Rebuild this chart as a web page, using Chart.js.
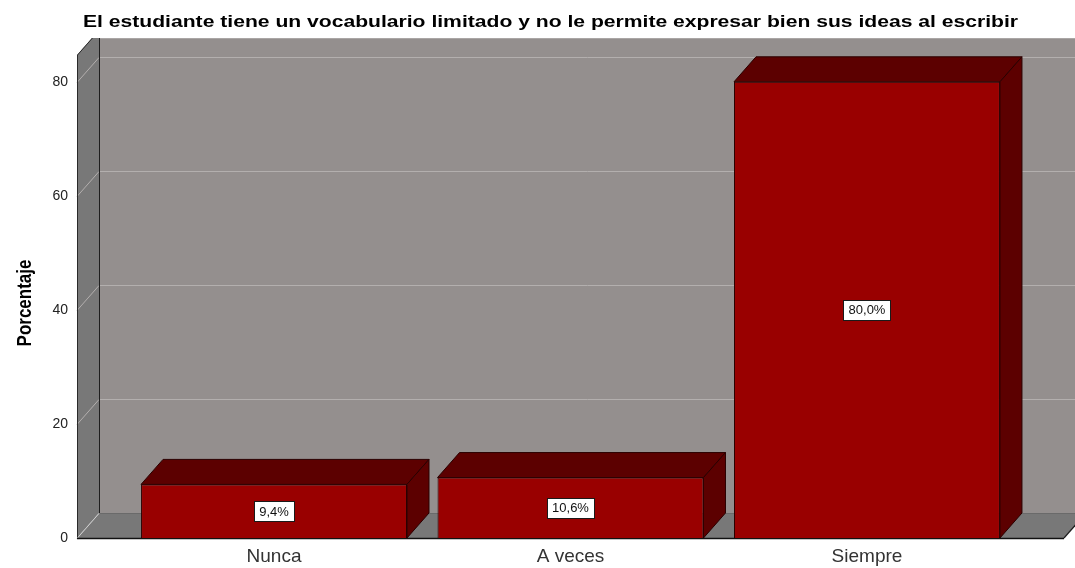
<!DOCTYPE html>
<html><head><meta charset="utf-8">
<script src="https://cdn.jsdelivr.net/npm/chart.js@4/dist/chart.umd.min.js"></script>
<style>html,body{margin:0;padding:0;background:#fff}#wrap{width:1075px;height:568px}</style>
</head><body><div id="wrap"><canvas id="c" width="1075" height="568"></canvas></div>
<script>
const chartTitle = 'El estudiante tiene un vocabulario limitado y no le permite expresar bien sus ideas al escribir';
const yAxisTitle = 'Porcentaje';
const categories = ['Nunca', 'A veces', 'Siempre'];
const percentages = [9.4, 10.6, 80.0];
const yTickValues = [0, 20, 40, 60, 80];

const DX = 22, DY = 25;        // 3D depth offset (style)
const CLIP_TOP = 38;           // top of the plot frame
const FONT = "'Liberation Sans', Arial, sans-serif";

function poly(ctx, pts, fill, stroke) {
  ctx.beginPath();
  ctx.moveTo(pts[0][0], pts[0][1]);
  for (let i = 1; i < pts.length; i++) ctx.lineTo(pts[i][0], pts[i][1]);
  ctx.closePath();
  if (fill) { ctx.fillStyle = fill; ctx.fill(); }
  if (stroke) { ctx.strokeStyle = stroke; ctx.lineWidth = 1; ctx.stroke(); }
}
function line(ctx, pts, color, w) {
  ctx.beginPath();
  ctx.moveTo(pts[0][0], pts[0][1]);
  for (let i = 1; i < pts.length; i++) ctx.lineTo(pts[i][0], pts[i][1]);
  ctx.strokeStyle = color; ctx.lineWidth = w || 1; ctx.stroke();
}

const spss3d = {
  id: 'spss3d',
  beforeDatasetsDraw(chart) {
    const { ctx, chartArea: a, scales: { y } } = chart;
    const L = a.left, R = a.right, T = a.top, B = a.bottom;
    ctx.save();
    ctx.beginPath(); ctx.rect(0, CLIP_TOP, chart.width, chart.height - CLIP_TOP); ctx.clip();
    // back wall
    poly(ctx, [[L + DX, T - DY], [R + DX, T - DY], [R + DX, B - DY], [L + DX, B - DY]], '#948f8e');
    // left wall
    poly(ctx, [[L, B], [L, T], [L + DX, T - DY], [L + DX, B - DY]], '#787878');
    // floor
    poly(ctx, [[L, B], [L + DX, B - DY], [R + DX, B - DY], [R, B]], '#787878');
    // gridlines
    yTickValues.forEach(v => {
      if (v === 0) return;
      const py = Math.round(y.getPixelForValue(v)) + 0.5;
      line(ctx, [[L, py], [L + DX, py - DY], [R + DX, py - DY]], '#b3afae', 1);
    });
    // floor back edge
    line(ctx, [[L + DX, B - DY + 0.5], [R + DX, B - DY + 0.5]], '#6a6a6a', 1);
    // top frame edge
    line(ctx, [[L + DX, CLIP_TOP + 0.5], [chart.width, CLIP_TOP + 0.5]], '#aaa6a5', 1);
    // edges
    line(ctx, [[L + DX + 0.5, T - DY], [L + DX + 0.5, B - DY]], '#1e1e1e', 1);
    line(ctx, [[L + 0.5, B], [L + 0.5, T], [L + DX + 0.5, T - DY]], '#2a2a2a', 1);
    line(ctx, [[L, B + 0.5], [L + DX, B - DY + 0.5]], '#cfcfcf', 1);
    line(ctx, [[R, B], [R + DX, B - DY]], '#1e1e1e', 1.2);
    line(ctx, [[L, B + 0.5], [R, B + 0.5]], '#111', 1.5);
    ctx.restore();
  },
  afterDatasetsDraw(chart) {
    const { ctx } = chart;
    const meta = chart.getDatasetMeta(0);
    ctx.save();
    meta.data.forEach((bar, i) => {
      const { x, y, base, width } = bar.getProps(['x', 'y', 'base', 'width'], true);
      const l = x - width / 2, r = x + width / 2;
      // top face
      poly(ctx, [[l, y], [l + DX, y - DY], [r + DX, y - DY], [r, y]], '#5c0000', '#2a0000');
      // side face
      poly(ctx, [[r, y], [r + DX, y - DY], [r + DX, base - DY], [r, base]], '#5c0000', '#2a0000');
      // value label
      const txt = percentages[i].toFixed(1).replace('.', ',') + '%';
      ctx.font = '13px ' + FONT;
      const tw = ctx.measureText(txt).width;
      const cy = (y + base) / 2;
      const bw = Math.round(tw + 10), bh = 20;
      const bx = Math.round(x - bw / 2) + 0.5, byy = Math.round(cy - bh / 2) + 0.5;
      ctx.fillStyle = '#ffffff';
      ctx.fillRect(bx, byy, bw, bh);
      ctx.strokeStyle = '#1a1a1a'; ctx.lineWidth = 1;
      ctx.strokeRect(bx, byy, bw, bh);
      ctx.fillStyle = '#111';
      ctx.textAlign = 'center'; ctx.textBaseline = 'middle';
      ctx.fillText(txt, x, cy + 1);
    });
    ctx.restore();
  },
  afterDraw(chart) {
    const { ctx } = chart;
    ctx.save();
    // title
    ctx.font = 'bold 16px ' + FONT;
    const w = ctx.measureText(chartTitle).width;
    const sx = 935 / w;
    ctx.translate(550.5, 27);
    ctx.scale(sx, 1);
    ctx.fillStyle = '#000';
    ctx.textAlign = 'center'; ctx.textBaseline = 'alphabetic';
    ctx.fillText(chartTitle, 0, 0);
    ctx.restore();
    // y-axis title
    ctx.save();
    ctx.font = 'bold 17px ' + FONT;
    ctx.translate(31, 303);
    ctx.scale(1.15, 1);
    ctx.rotate(-Math.PI / 2);
    ctx.fillStyle = '#000';
    ctx.textAlign = 'center'; ctx.textBaseline = 'alphabetic';
    ctx.fillText(yAxisTitle, 0, 0);
    ctx.restore();
  }
};

new Chart(document.getElementById('c'), {
  type: 'bar',
  data: {
    datasets: [{
      data: percentages.map((v, i) => ({ x: i, y: v })),
      backgroundColor: '#990000',
      borderColor: '#2a0000',
      borderWidth: 1,
      barPercentage: 0.897,
      categoryPercentage: 1
    }]
  },
  options: {
    responsive: false,
    animation: false,
    devicePixelRatio: 1,
    layout: { padding: { top: 55, right: 11, left: 0, bottom: 0 } },
    plugins: { legend: { display: false }, tooltip: { enabled: false }, title: { display: false } },
    scales: {
      x: {
        type: 'linear',
        offset: false,
        min: -0.6645, max: 2.6645,
        grid: { display: false, drawTicks: false, offset: false },
        border: { display: false },
        afterBuildTicks: s => { s.ticks = categories.map((_, i) => ({ value: i })); },
        afterFit: s => { s.height = 30; },
        ticks: {
          autoSkip: false, maxRotation: 0, padding: 7,
          color: '#333', font: { family: FONT, size: 19 },
          callback: v => categories[v]
        }
      },
      y: {
        min: 0, max: 84.7,
        grid: { display: false, drawTicks: false },
        border: { display: false },
        afterBuildTicks: s => { s.ticks = yTickValues.map(v => ({ value: v })); },
        afterFit: s => { s.width = 77; },
        ticks: { padding: 9, color: '#222', font: { family: FONT, size: 14 } }
      }
    }
  },
  plugins: [spss3d]
});
</script>
</body></html>
